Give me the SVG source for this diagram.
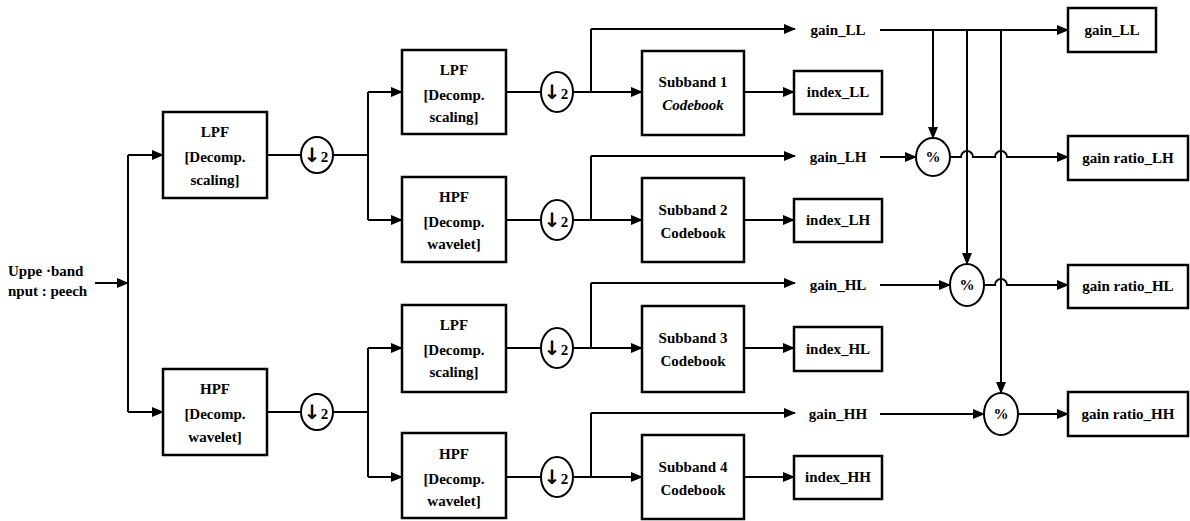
<svg xmlns="http://www.w3.org/2000/svg" width="1190" height="521" viewBox="0 0 1190 521">
<defs>
<style>
.box{fill:#fff;stroke:#000;stroke-width:2.5}
.ln{fill:none;stroke:#000;stroke-width:2}
.ar{fill:none;stroke:#000;stroke-width:2;marker-end:url(#ah)}
.c{fill:#fff;stroke:#000;stroke-width:2}
text{font-family:"Liberation Serif","DejaVu Serif",serif;font-weight:bold;font-size:15px;fill:#000;text-anchor:middle}
.l{text-anchor:start}
.dn{font-family:"DejaVu Sans",sans-serif;font-weight:bold;font-size:20px}
.two{font-size:15px}
</style>
<marker id="ah" markerUnits="userSpaceOnUse" markerWidth="12" markerHeight="10" refX="11" refY="5" orient="auto">
<path d="M0,0 L12,5 L0,10 z" fill="#000"/>
</marker>
</defs>
<rect width="1190" height="521" fill="#fff"/>
<g id="connectors">
<path class="ar" d="M95,283 H128"/>
<path class="ln" d="M128,155 V412"/>
<path class="ar" d="M128,155 H163"/>
<path class="ar" d="M128,412 H163"/>
<path class="ln" d="M267,155 H301 M333,155 H368 M368,92 V220"/>
<path class="ar" d="M368,92 H402"/>
<path class="ar" d="M368,220 H402"/>
<path class="ln" d="M267,412 H301 M333,412 H368 M368,348 V477"/>
<path class="ar" d="M368,348 H402"/>
<path class="ar" d="M368,477 H402"/>
<path class="ln" d="M506,92 H541 M573,92 H591 M591,29 V92"/>
<path class="ar" d="M591,29 H795"/>
<path class="ar" d="M591,92 H642"/>
<path class="ar" d="M744,92 H794"/>
<path class="ln" d="M506,220 H541 M573,220 H591 M591,156 V220"/>
<path class="ar" d="M591,156 H795"/>
<path class="ar" d="M591,220 H642"/>
<path class="ar" d="M744,220 H794"/>
<path class="ln" d="M506,348 H541 M573,348 H591 M591,283 V348"/>
<path class="ar" d="M591,283 H795"/>
<path class="ar" d="M591,348 H642"/>
<path class="ar" d="M744,348 H794"/>
<path class="ln" d="M506,477 H541 M573,477 H591 M591,413 V477"/>
<path class="ar" d="M591,413 H795"/>
<path class="ar" d="M591,477 H642"/>
<path class="ar" d="M744,477 H794"/>
<path class="ar" d="M880,30 H1068"/>
<path class="ar" d="M933,30 V138"/>
<path class="ar" d="M967,30 V264"/>
<path class="ar" d="M1001,30 V393"/>
<path class="ar" d="M880,157 H916"/>
<path class="ar" d="M950,157 H961 A6,6 0 0 1 973,157 H995 A6,6 0 0 1 1007,157 H1068"/>
<path class="ar" d="M880,285 H950"/>
<path class="ar" d="M984,285 H995 A6,6 0 0 1 1007,285 H1068"/>
<path class="ar" d="M880,414 H984"/>
<path class="ar" d="M1018,414 H1068"/>
</g>
<g id="input">
<text class="l" x="8" y="276">Uppe ·band</text>
<text class="l" x="8" y="296">nput : peech</text>
</g>
<g id="lpf1"><rect class="box" x="163" y="112" width="104" height="86"/><text x="215" y="137">LPF</text><text x="215" y="162">[Decomp.</text><text x="215" y="185">scaling]</text></g>
<g id="hpf1"><rect class="box" x="163" y="369" width="104" height="86"/><text x="215" y="394">HPF</text><text x="215" y="419">[Decomp.</text><text x="215" y="442">wavelet]</text></g>
<g id="ds1"><ellipse class="c" cx="317" cy="155" rx="16" ry="18"/><text x="316" y="162"><tspan class="dn">↓</tspan><tspan class="two">2</tspan></text></g>
<g id="ds2"><ellipse class="c" cx="317" cy="412" rx="16" ry="18"/><text x="316" y="419"><tspan class="dn">↓</tspan><tspan class="two">2</tspan></text></g>
<g id="lpf2"><rect class="box" x="402" y="50" width="104" height="84"/><text x="454" y="75">LPF</text><text x="454" y="100">[Decomp.</text><text x="454" y="122">scaling]</text></g>
<g id="hpf2"><rect class="box" x="402" y="177" width="104" height="85"/><text x="454" y="202">HPF</text><text x="454" y="227">[Decomp.</text><text x="454" y="249">wavelet]</text></g>
<g id="lpf3"><rect class="box" x="402" y="305" width="104" height="87"/><text x="454" y="330">LPF</text><text x="454" y="355">[Decomp.</text><text x="454" y="377">scaling]</text></g>
<g id="hpf3"><rect class="box" x="402" y="433" width="104" height="85"/><text x="454" y="459">HPF</text><text x="454" y="484">[Decomp.</text><text x="454" y="506">wavelet]</text></g>
<g id="ds3"><ellipse class="c" cx="557" cy="92" rx="16" ry="20"/><text x="556" y="99"><tspan class="dn">↓</tspan><tspan class="two">2</tspan></text></g>
<g id="ds4"><ellipse class="c" cx="557" cy="220" rx="16" ry="20"/><text x="556" y="227"><tspan class="dn">↓</tspan><tspan class="two">2</tspan></text></g>
<g id="ds5"><ellipse class="c" cx="557" cy="348" rx="16" ry="20"/><text x="556" y="355"><tspan class="dn">↓</tspan><tspan class="two">2</tspan></text></g>
<g id="ds6"><ellipse class="c" cx="557" cy="477" rx="16" ry="20"/><text x="556" y="484"><tspan class="dn">↓</tspan><tspan class="two">2</tspan></text></g>
<g id="sb1"><rect class="box" x="642" y="51" width="102" height="84"/><text x="693" y="87">Subband 1</text><text x="693" y="110" font-style="italic">Codebook</text></g>
<g id="sb2"><rect class="box" x="642" y="178" width="102" height="84"/><text x="693" y="215">Subband 2</text><text x="693" y="238">Codebook</text></g>
<g id="sb3"><rect class="box" x="642" y="306" width="102" height="86"/><text x="693" y="343">Subband 3</text><text x="693" y="366">Codebook</text></g>
<g id="sb4"><rect class="box" x="642" y="435" width="102" height="84"/><text x="693" y="472">Subband 4</text><text x="693" y="495">Codebook</text></g>
<g id="idx1"><rect class="box" x="794" y="71" width="88" height="43"/><text x="838" y="97">index_LL</text></g>
<g id="idx2"><rect class="box" x="794" y="199" width="88" height="43"/><text x="838" y="225">index_LH</text></g>
<g id="idx3"><rect class="box" x="794" y="327" width="88" height="44"/><text x="838" y="354">index_HL</text></g>
<g id="idx4"><rect class="box" x="794" y="456" width="88" height="43"/><text x="838" y="482">index_HH</text></g>
<g id="g1"><text x="838" y="35">gain_LL</text></g>
<g id="g2"><text x="838" y="162">gain_LH</text></g>
<g id="g3"><text x="838" y="290">gain_HL</text></g>
<g id="g4"><text x="838" y="419">gain_HH</text></g>
<g id="pc1"><ellipse class="c" cx="933" cy="157" rx="17" ry="19"/><text x="933" y="162">%</text></g>
<g id="pc2"><ellipse class="c" cx="967" cy="285" rx="17" ry="21"/><text x="967" y="290">%</text></g>
<g id="pc3"><ellipse class="c" cx="1001" cy="414" rx="17" ry="21"/><text x="1001" y="419">%</text></g>
<g id="o1"><rect class="box" x="1068" y="8" width="88" height="44"/><text x="1112" y="35">gain_LL</text></g>
<g id="o2"><rect class="box" x="1068" y="136" width="120" height="44"/><text x="1128" y="163">gain ratio_LH</text></g>
<g id="o3"><rect class="box" x="1068" y="265" width="120" height="43"/><text x="1128" y="291">gain ratio_HL</text></g>
<g id="o4"><rect class="box" x="1068" y="392" width="120" height="44"/><text x="1128" y="419">gain ratio_HH</text></g>
</svg>
